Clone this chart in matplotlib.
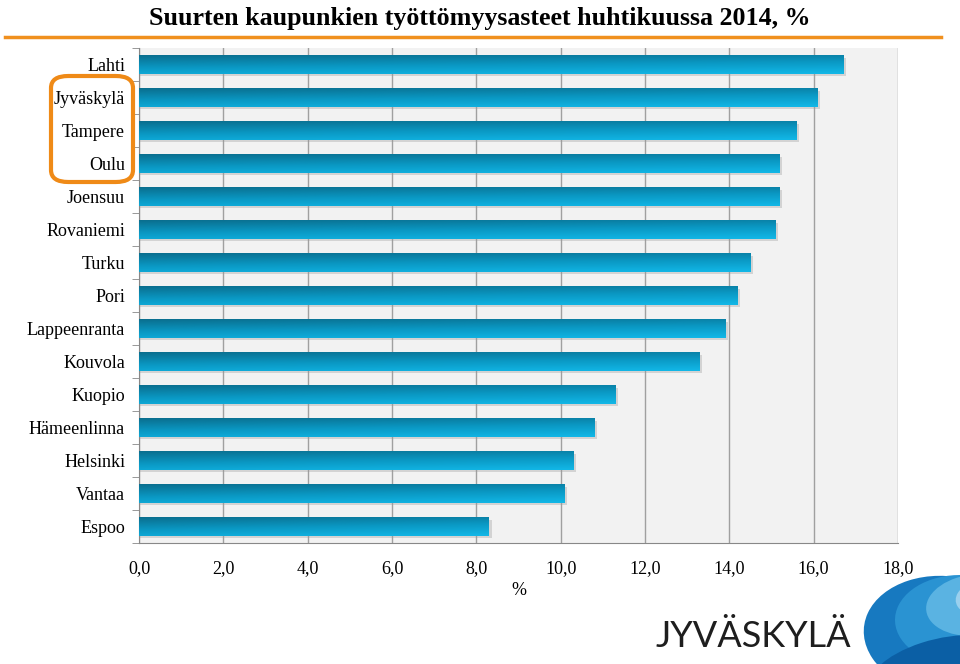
import numpy as np
import matplotlib
matplotlib.use('Agg')
import matplotlib.pyplot as plt
from matplotlib.patches import FancyBboxPatch, Ellipse
from matplotlib.colors import LinearSegmentedColormap

# Data
cities = ['Lahti', 'Jyväskylä', 'Tampere', 'Oulu', 'Joensuu', 'Rovaniemi', 'Turku',
          'Pori', 'Lappeenranta', 'Kouvola', 'Kuopio', 'Hämeenlinna', 'Helsinki',
          'Vantaa', 'Espoo']
rates = [16.7, 16.1, 15.6, 15.2, 15.2, 15.1, 14.5, 14.2, 13.9, 13.3, 11.3, 10.8,
         10.3, 10.1, 8.3]
xticks = [0, 2, 4, 6, 8, 10, 12, 14, 16, 18]
xtick_labels = ['0,0', '2,0', '4,0', '6,0', '8,0', '10,0', '12,0', '14,0', '16,0', '18,0']

serif = ['Liberation Serif', 'DejaVu Serif']

fig = plt.figure(figsize=(9.6, 6.64), dpi=100)
ax = fig.add_axes([0.1448, 0.1822, 0.7906, 0.7455])
ax.set_facecolor('#f2f2f2')

y = np.arange(len(cities))
bh = 0.55

# shadows
ax.barh(y + 0.07, np.array(rates) + 0.06, height=bh, color='#9a9a9a', alpha=0.35,
        zorder=2, linewidth=0)
bars = ax.barh(y, rates, height=bh, color='none', zorder=3, linewidth=0)

# dark at the top, bright cyan at the bottom, slightly darker on the left
cmap = LinearSegmentedColormap.from_list('bar', ['#0a6e8e', '#0a97c2', '#12b8e8'])
grad = np.linspace(0, 1, 64)[:, None] * 0.75 + np.linspace(0, 1, 64)[None, :] * 0.25
for b in bars:
    x0, y0, w, h = b.get_x(), b.get_y(), b.get_width(), b.get_height()
    im = ax.imshow(grad, cmap=cmap, aspect='auto', extent=(x0, x0 + w, y0, y0 + h),
                   origin='lower', zorder=3, interpolation='bilinear')
    im.set_clip_path(b)

ax.set_xlim(0, 18)
ax.set_ylim(len(cities) - 0.5, -0.5)
ax.set_xticks(xticks)
ax.set_xticklabels(xtick_labels, fontsize=13, family=serif)
ax.set_yticks(y)
ax.set_yticklabels(cities, fontsize=13, family=serif)
ax.tick_params(axis='y', length=0, pad=10)
ax.tick_params(axis='x', length=0, pad=12)
ax.set_yticks(np.arange(len(cities) + 1) - 0.5, minor=True)
ax.tick_params(axis='y', which='minor', length=5, color='#888888')
ax.grid(axis='x', color='#a0a0a0', linewidth=1, zorder=1)
ax.set_axisbelow(True)
for s in ['top', 'right']:
    ax.spines[s].set_visible(False)
ax.spines['left'].set_color('#888888')
ax.spines['bottom'].set_color('#888888')
ax.set_xlabel('%', fontsize=13, family=serif, labelpad=4)

# title and orange rule
fig.text(0.5, 0.99, 'Suurten kaupunkien työttömyysasteet huhtikuussa 2014, %',
         ha='center', va='top', fontsize=18.7, fontweight='bold', family=serif)
fig.add_artist(plt.Line2D([0.005, 0.98], [0.944, 0.944], color='#f0901e', linewidth=2.5))

# orange highlight box
box = FancyBboxPatch((51 / 960, 1 - 182 / 664), 82 / 960, 106 / 664,
                     boxstyle='round,pad=0,rounding_size=0.018', transform=fig.transFigure,
                     fill=False, edgecolor='#ef8a17', linewidth=3)
fig.add_artist(box)

# logo
fig.text(0.785, 0.042, 'JYVÄSKYLÄ', ha='center', va='center', fontsize=26,
         family=['Lato', 'DejaVu Sans'], color='#1e1e1e')
for (cx, cy, w, h, c) in [(945, 635, 160, 120, '#1779c0'), (960, 620, 130, 90, '#2a93d2'),
                          (975, 605, 100, 60, '#5ab3e2'), (985, 598, 60, 36, '#9ad0ee'),
                          (940, 670, 150, 60, '#0b5fa5')]:
    fig.add_artist(Ellipse((cx / 960, 1 - cy / 664), w / 960, h / 664,
                           angle=25, transform=fig.transFigure, color=c, lw=0))

fig.savefig('out.png', dpi=100)
